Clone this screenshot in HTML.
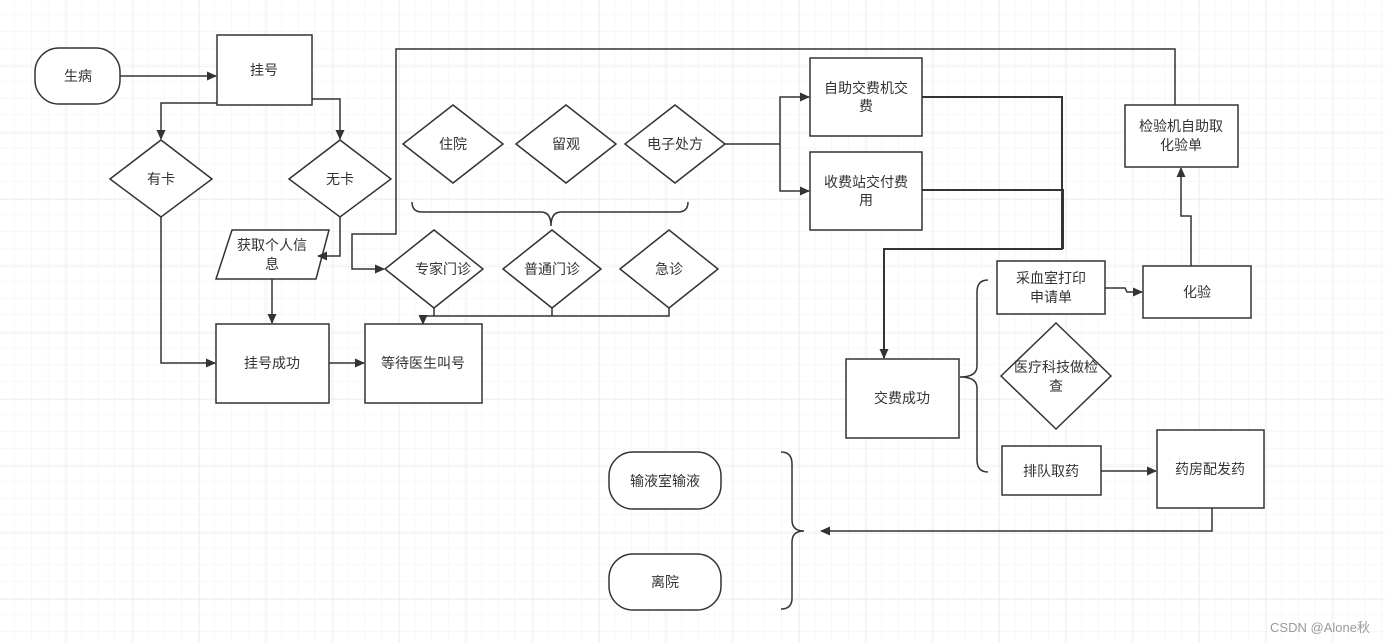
<!DOCTYPE html>
<html><head><meta charset="utf-8"><style>
html,body{margin:0;padding:0;background:#fff;}
svg{display:block;}
text{font-family:"Liberation Sans","Noto Sans CJK SC",sans-serif;font-size:14px;fill:#333;text-anchor:middle;}
</style></head><body>
<svg width="1385" height="642" viewBox="0 0 1385 642" xmlns="http://www.w3.org/2000/svg">
<defs>
<pattern id="g" x="-1.7" y="-1.7" width="16.67" height="16.67" patternUnits="userSpaceOnUse">
<path d="M16.67 0V16.67M0 16.67H16.67" stroke="#f0f0f0" stroke-width="1" fill="none"/>
</pattern>
<pattern id="G" x="0" y="0" width="66.67" height="66.67" patternUnits="userSpaceOnUse">
<path d="M66.67 0V66.67M0 66.67H66.67" stroke="#e8e8e8" stroke-width="1.2" fill="none"/>
</pattern>
<marker id="a" markerWidth="10" markerHeight="10" refX="9" refY="5" orient="auto" markerUnits="userSpaceOnUse"><path d="M0,0.5 L10,5 L0,9.5 Z" fill="#333"/></marker>
</defs>
<rect width="1385" height="642" fill="url(#g)"/>
<rect width="1385" height="642" fill="url(#G)"/>
<g fill="#fff" stroke="#333" stroke-width="1.5">
<rect x="35" y="48" width="85" height="56" rx="24"/>
<rect x="217" y="35" width="95" height="70"/>
<path d="M110,179 L161,140 L212,179 L161,217 Z"/>
<path d="M289,179 L340,140 L391,179 L340,217 Z"/>
<path d="M232,230 L329,230 L316,279 L216,279 Z"/>
<rect x="216" y="324" width="113" height="79"/>
<rect x="365" y="324" width="117" height="79"/>
<path d="M403,144 L453,105 L503,144 L453,183 Z"/>
<path d="M516,144 L566,105 L616,144 L566,183 Z"/>
<path d="M625,144 L675,105 L725,144 L675,183 Z"/>
<path d="M385,269 L434,230 L483,269 L434,308 Z"/>
<path d="M503,269 L552,230 L601,269 L552,308 Z"/>
<path d="M620,269 L669,230 L718,269 L669,308 Z"/>
<rect x="810" y="58" width="112" height="78"/>
<rect x="810" y="152" width="112" height="78"/>
<rect x="1125" y="105" width="113" height="62"/>
<rect x="1143" y="266" width="108" height="52"/>
<rect x="997" y="261" width="108" height="53"/>
<path d="M1001,376 L1056,323 L1111,376 L1056,429 Z"/>
<rect x="846" y="359" width="113" height="79"/>
<rect x="1002" y="446" width="99" height="49"/>
<rect x="1157" y="430" width="107" height="78"/>
<rect x="609" y="452" width="112" height="57" rx="24"/>
<rect x="609" y="554" width="112" height="56" rx="24"/>
</g>
<g fill="none" stroke="#333" stroke-width="1.5">
<path d="M412,202 Q412,212 422,212 L541,212 Q551,212 551,226 Q551,212 561,212 L678,212 Q688,212 688,202"/>
<path d="M988,280 Q977,280 977,292 L977,366 Q977,377 960,377 Q977,377 977,388 L977,460 Q977,472 988,472"/>
<path d="M781,452 Q792,452 792,464 L792,520 Q792,531 804,531 Q792,531 792,542 L792,598 Q792,609 781,609"/>
<path d="M120,76 L216,76" marker-end="url(#a)"/>
<path d="M217,103 L161,103 L161,139" marker-end="url(#a)"/>
<path d="M312,99 L340,99 L340,139" marker-end="url(#a)"/>
<path d="M340,217 L340,256 L318,256" marker-end="url(#a)"/>
<path d="M161,217 L161,363 L215,363" marker-end="url(#a)"/>
<path d="M272,279 L272,323" marker-end="url(#a)"/>
<path d="M329,363 L364,363" marker-end="url(#a)"/>
<path d="M434,308 L434,316 M552,308 L552,316 M669,308 L669,316 L423,316 L423,324" marker-end="url(#a)"/>
<path d="M1175,105 L1175,49 L396,49 L396,234 L352,234 L352,269 L384,269" marker-end="url(#a)"/>
<path d="M725,144 L780,144 L780,97 L809,97" marker-end="url(#a)"/>
<path d="M780,144 L780,191 L809,191" marker-end="url(#a)"/>
<path d="M922,97 L1062,97 L1062,249 L884,249 L884,358" marker-end="url(#a)" stroke-width="2"/>
<path d="M922,190 L1063,190 L1063,249" stroke-width="2"/>
<path d="M1105,288 L1125,288 L1127,292 L1142,292" marker-end="url(#a)"/>
<path d="M1191,266 L1191,216 L1181,216 L1181,168" marker-end="url(#a)"/>
<path d="M1101,471 L1156,471" marker-end="url(#a)"/>
<path d="M1212,508 L1212,531 L821,531" marker-end="url(#a)"/>
</g>
<text x="78" y="81">生病</text>
<text x="264" y="75">挂号</text>
<text x="161" y="184">有卡</text>
<text x="340" y="184">无卡</text>
<text x="272" y="250">获取个人信</text>
<text x="272" y="269">息</text>
<text x="272" y="368">挂号成功</text>
<text x="423" y="368">等待医生叫号</text>
<text x="453" y="149">住院</text>
<text x="566" y="149">留观</text>
<text x="675" y="149">电子处方</text>
<text x="443" y="274">专家门诊</text>
<text x="552" y="274">普通门诊</text>
<text x="669" y="274">急诊</text>
<text x="866" y="93">自助交费机交</text>
<text x="866" y="111">费</text>
<text x="866" y="187">收费站交付费</text>
<text x="866" y="205">用</text>
<text x="1181" y="131">检验机自助取</text>
<text x="1181" y="150">化验单</text>
<text x="1197" y="297">化验</text>
<text x="1051" y="283">采血室打印</text>
<text x="1051" y="302">申请单</text>
<text x="1056" y="372">医疗科技做检</text>
<text x="1056" y="391">查</text>
<text x="902" y="403">交费成功</text>
<text x="1051" y="476">排队取药</text>
<text x="1210" y="474">药房配发药</text>
<text x="665" y="486">输液室输液</text>
<text x="665" y="587">离院</text>
<text x="1320" y="632" style="font-size:13px;fill:#999">CSDN @Alone秋</text>
</svg>
</body></html>
